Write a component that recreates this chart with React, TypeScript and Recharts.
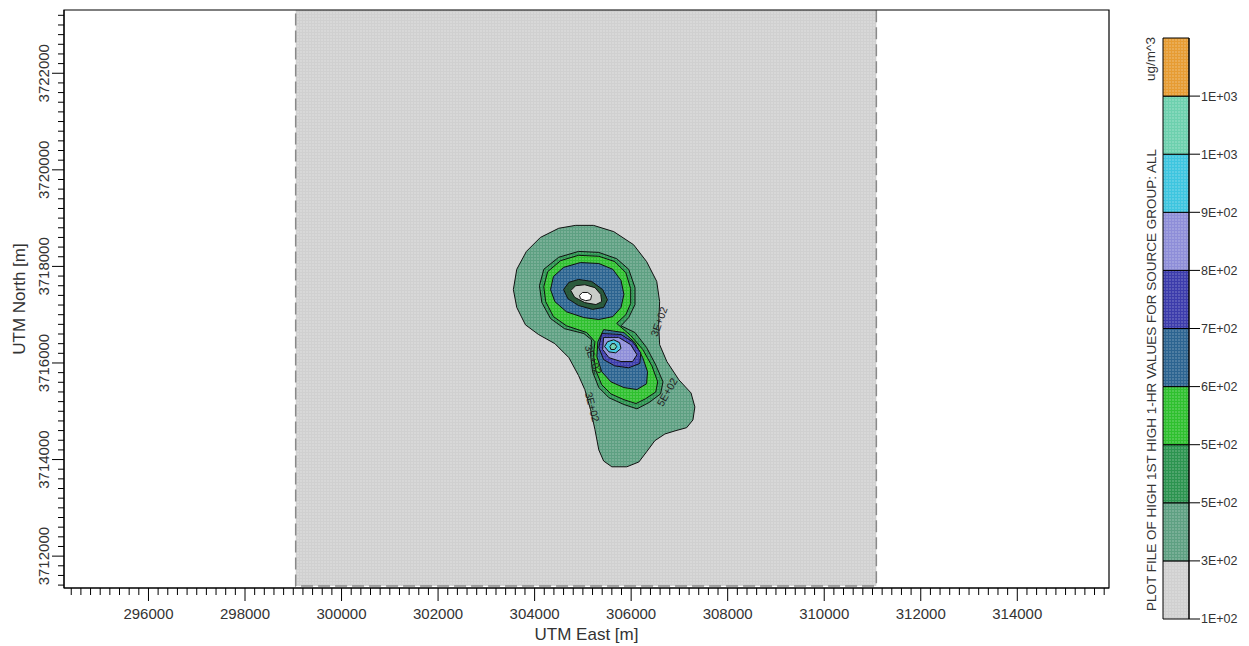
import React from 'react';
import { ScatterChart, Scatter, XAxis, YAxis, ReferenceArea, BarChart, Bar, Label } from 'recharts';

// plot extent in UTM metres
const xDomain = [294250, 315900];
const yDomain = [3711340, 3723310];
const xMajorTicks = [296000, 298000, 300000, 302000, 304000, 306000, 308000, 310000, 312000, 314000];
const yMajorTicks = [3712000, 3714000, 3716000, 3718000, 3720000, 3722000];
const minorStep = 200;
const xTicks = Array.from({ length: 108 }, (_, i) => 294400 + i * minorStep);
const yTicks = Array.from({ length: 60 }, (_, i) => 3711400 + i * minorStep);

// receptor grid extent
const receptorX = [299050, 311080];
const receptorY = [3711380, 3723600];

// contour polygons (E, N)
const c300 = [
  [304850, 3718850], [305220, 3718850], [305640, 3718720], [306050, 3718450], [306320, 3718100],
  [306530, 3717690], [306590, 3717270], [306570, 3716790], [306590, 3716380], [306740, 3716030],
  [306990, 3715650], [307240, 3715380], [307320, 3715090], [307280, 3714820], [307150, 3714660],
  [306930, 3714600], [306700, 3714530], [306490, 3714390], [306320, 3714160], [306160, 3713950],
  [305910, 3713850], [305600, 3713850], [305430, 3713970], [305330, 3714200], [305250, 3714620],
  [305160, 3715030], [305040, 3715450], [304910, 3715740], [304710, 3716110], [304420, 3716400],
  [304080, 3716590], [303810, 3716790], [303630, 3717150], [303560, 3717520], [303630, 3717940],
  [303830, 3718310], [304120, 3718600], [304500, 3718790],
];
const c500a = [
  [304500, 3718190], [304910, 3718310], [305330, 3718290], [305700, 3718160], [305950, 3717940],
  [306080, 3717560], [306080, 3717210], [305950, 3716940], [305790, 3716770], [306080, 3716630],
  [306320, 3716320], [306510, 3715960], [306660, 3715610], [306610, 3715360], [306370, 3715180],
  [306120, 3715050], [305850, 3715140], [305540, 3715280], [305330, 3715490], [305200, 3715820],
  [305160, 3716170], [305180, 3716480], [305020, 3716610], [304620, 3716710], [304330, 3716920],
  [304150, 3717250], [304100, 3717600], [304190, 3717940],
];
const c500b = [
  [304540, 3718120], [304910, 3718230], [305330, 3718210], [305660, 3718100], [305890, 3717870],
  [305990, 3717540], [305990, 3717230], [305890, 3717000], [305700, 3716820], [305990, 3716570],
  [306240, 3716280], [306430, 3715940], [306550, 3715610], [306510, 3715400], [306300, 3715260],
  [306100, 3715160], [305850, 3715240], [305580, 3715360], [305390, 3715550], [305270, 3715840],
  [305220, 3716170], [305250, 3716440], [305080, 3716630], [304660, 3716770], [304390, 3716960],
  [304230, 3717270], [304190, 3717580], [304270, 3717890],
];
const c600Upper = [
  [304600, 3717980], [304950, 3718080], [305330, 3718060], [305620, 3717940], [305790, 3717710],
  [305850, 3717420], [305790, 3717150], [305620, 3716960], [305330, 3716900], [305020, 3716940],
  [304660, 3717060], [304420, 3717270], [304330, 3717520], [304390, 3717790],
];
const c600Lower = [
  [305430, 3716690], [305850, 3716630], [306080, 3716420], [306240, 3716110], [306340, 3715820],
  [306320, 3715570], [306120, 3715450], [305850, 3715490], [305580, 3715610], [305390, 3715820],
  [305290, 3716130], [305310, 3716440],
];
const c700Lower = [
  [305390, 3716610], [305790, 3716590], [306030, 3716440], [306200, 3716210], [306180, 3715990],
  [305950, 3715900], [305660, 3715940], [305430, 3716070], [305330, 3716320],
];
const c800Lower = [
  [305430, 3716530], [305740, 3716530], [305990, 3716380], [306120, 3716170], [306030, 3716030],
  [305790, 3716030], [305540, 3716110], [305410, 3716280],
];
const c900Lower = [
  [305450, 3716340], [305510, 3716440], [305640, 3716480], [305760, 3716420], [305790, 3716300],
  [305680, 3716210], [305540, 3716230],
];
const c1000Lower = [
  [305560, 3716340], [305600, 3716400], [305660, 3716400], [305700, 3716340], [305660, 3716280],
  [305580, 3716280],
];
const peakRing = [
  [304600, 3717520], [304710, 3717670], [304910, 3717730], [305180, 3717690], [305410, 3717520],
  [305510, 3717310], [305430, 3717150], [305200, 3717110], [304910, 3717190], [304690, 3717330],
];
const peakInner = [
  [304750, 3717500], [304850, 3717600], [305040, 3717620], [305250, 3717560], [305370, 3717420],
  [305390, 3717270], [305270, 3717210], [305040, 3717250], [304830, 3717360],
];
const peakCore = [
  [304930, 3717400], [304990, 3717460], [305100, 3717460], [305180, 3717400], [305160, 3717310],
  [305060, 3717290], [304950, 3717330],
];

// contour labels
const contourLabels = [
  { x: 306570, y: 3716860, text: '3E+02' },
  { x: 305220, y: 3716070, text: '3E+02' },
  { x: 306740, y: 3715400, text: '5E+02' },
  { x: 305200, y: 3715090, text: '3E+02' },
];
const contourLabelAngles = [-70, 70, -60, 75];

// colour bar
const bandLabels = ['1E+02', '3E+02', '5E+02', '5E+02', '6E+02', '7E+02', '8E+02', '9E+02', '1E+03', '1E+03'];
const bandColors = ['#d0d0d0', '#5ea082', '#2c9450', '#2fc02f', '#2c6490', '#3c3cab', '#8e8ed8', '#3ec5df', '#6dd0ae', '#e69c33'];
const bandRow = [{ name: 'all', b0: 1, b1: 1, b2: 1, b3: 1, b4: 1, b5: 1, b6: 1, b7: 1, b8: 1, b9: 1 }];

const toPts = (arr: number[][]) => arr.map(([x, y]) => ({ x, y }));

const layers = [
  { data: c300, fill: 'url(#pat1)' },
  { data: c500a, fill: 'url(#pat2)' },
  { data: c500b, fill: 'url(#pat3)' },
  { data: c600Upper, fill: 'url(#pat4)' },
  { data: c600Lower, fill: 'url(#pat4)' },
  { data: peakRing, fill: '#2a5a3c' },
  { data: peakInner, fill: '#c8ccc8' },
  { data: peakCore, fill: '#ffffff' },
  { data: c700Lower, fill: 'url(#pat5)' },
  { data: c800Lower, fill: 'url(#pat6)' },
  { data: c900Lower, fill: 'url(#pat7)' },
  { data: c1000Lower, fill: 'url(#pat8)' },
];

const FONT = '"Liberation Sans", Arial, sans-serif';

const XTick = (props: any) => {
  const { x, y, payload } = props;
  const major = xMajorTicks.includes(payload.value);
  return (
    <g>
      <line x1={x} y1={y} x2={x} y2={y + (major ? 13 : 7)} stroke="#000" />
      {major && (
        <text x={x} y={y + 25} textAnchor="middle" dominantBaseline="central" fontSize={15} fill="#333">
          {payload.value}
        </text>
      )}
    </g>
  );
};

const YTick = (props: any) => {
  const { x, y, payload } = props;
  const major = yMajorTicks.includes(payload.value);
  return (
    <g>
      <line x1={x - (major ? 12 : 6)} y1={y} x2={x} y2={y} stroke="#000" />
      {major && (
        <text x={x - 20} y={y} transform={`rotate(-90 ${x - 20} ${y})`} textAnchor="middle" dominantBaseline="central" fontSize={15} fill="#333">
          {payload.value}
        </text>
      )}
    </g>
  );
};

const noDot = () => <g />;

const labelShape = (props: any) => {
  const { cx, cy, index } = props;
  const a = contourLabelAngles[index] ?? 0;
  return (
    <text x={cx} y={cy} transform={`rotate(${a} ${cx} ${cy})`} textAnchor="middle" dominantBaseline="central" fontSize={10.5} fill="#222">
      {props.payload.text}
    </text>
  );
};

const Patterns = () => (
  <svg width={0} height={0} style={{ position: 'absolute' }}>
    <defs>
      {bandColors.map((c, i) => (
        <pattern key={i} id={`pat${i}`} width={3} height={3} patternUnits="userSpaceOnUse">
          <rect width={3} height={3} fill={c} />
          <circle cx={1} cy={1} r={0.75} fill="#fff" fillOpacity={0.4} />
        </pattern>
      ))}
    </defs>
  </svg>
);

export default function App() {
  return (
    <div style={{ position: 'absolute', left: 0, top: 0, width: 1249, height: 646, background: '#fff', fontFamily: FONT }}>
      <Patterns />
      <div style={{ position: 'absolute', left: 0, top: 0 }}>
        <ScatterChart width={1130} height={646} margin={{ top: 10, right: 21, bottom: 0, left: 0 }}>
          <XAxis
            type="number"
            dataKey="x"
            domain={xDomain}
            allowDataOverflow
            ticks={xTicks}
            interval={0}
            tick={<XTick />}
            tickLine={false}
            tickSize={0}
            tickMargin={0}
            height={58}
            axisLine={{ stroke: '#000' }}
          >
            <Label value="UTM East [m]" position="insideBottom" offset={6} fontSize={17} fill="#333" />
          </XAxis>
          <YAxis
            type="number"
            dataKey="y"
            domain={yDomain}
            allowDataOverflow
            ticks={yTicks}
            interval={0}
            tick={<YTick />}
            tickLine={false}
            tickSize={0}
            tickMargin={0}
            width={64}
            axisLine={{ stroke: '#000' }}
          >
            <Label value="UTM North [m]" position="insideLeft" angle={-90} offset={19} fontSize={17} fill="#333" style={{ textAnchor: 'middle' }} />
          </YAxis>
          <ReferenceArea
            x1={receptorX[0]}
            x2={receptorX[1]}
            y1={receptorY[0]}
            y2={receptorY[1]}
            ifOverflow="hidden"
            fill="url(#pat0)"
            fillOpacity={1}
            stroke="#8a8a8a"
            strokeWidth={1.5}
            strokeDasharray="12 5"
          />
          {layers.map((l, i) => (
            <Scatter
              key={i}
              data={toPts(l.data)}
              shape={noDot}
              line={{ fill: l.fill, stroke: '#111', strokeWidth: 1 }}
              lineType="joint"
              lineJointType="linearClosed"
              isAnimationActive={false}
            />
          ))}
          <Scatter data={contourLabels} shape={labelShape} isAnimationActive={false} />
          <ReferenceArea
            x1={xDomain[0]}
            x2={xDomain[1]}
            y1={yDomain[0]}
            y2={yDomain[1]}
            ifOverflow="visible"
            fill="none"
            stroke="#000"
            strokeWidth={1.2}
          />
        </ScatterChart>
      </div>
      <div style={{ position: 'absolute', left: 1130, top: 0 }}>
        <BarChart width={119} height={646} data={bandRow} margin={{ top: 38, right: 0, bottom: 27, left: 33 }} barCategoryGap={0}>
          <XAxis dataKey="name" hide />
          <YAxis
            orientation="right"
            type="number"
            domain={[0, 10]}
            ticks={[0, 1, 2, 3, 4, 5, 6, 7, 8, 9]}
            interval={0}
            tickFormatter={(v: number) => bandLabels[v]}
            width={60}
            tickSize={11}
            tickMargin={1}
            tick={{ fontSize: 12.5, fill: '#333' }}
            tickLine={{ stroke: '#000' }}
            axisLine={{ stroke: '#000' }}
          />
          {bandColors.map((_, i) => (
            <Bar key={i} dataKey={`b${i}`} stackId="s" fill={`url(#pat${i})`} stroke="#000" strokeWidth={1} isAnimationActive={false} />
          ))}
        </BarChart>
      </div>
      <svg width={1249} height={646} style={{ position: 'absolute', left: 0, top: 0, pointerEvents: 'none' }}>
        <text transform="translate(1151 611) rotate(-90)" textAnchor="start" dominantBaseline="central" fontSize={13.5} fill="#333">
          PLOT FILE OF HIGH 1ST HIGH 1-HR VALUES FOR SOURCE GROUP: ALL
        </text>
        <text transform="translate(1150 59) rotate(-90)" textAnchor="middle" dominantBaseline="central" fontSize={13.5} fill="#333">
          ug/m^3
        </text>
      </svg>
    </div>
  );
}
